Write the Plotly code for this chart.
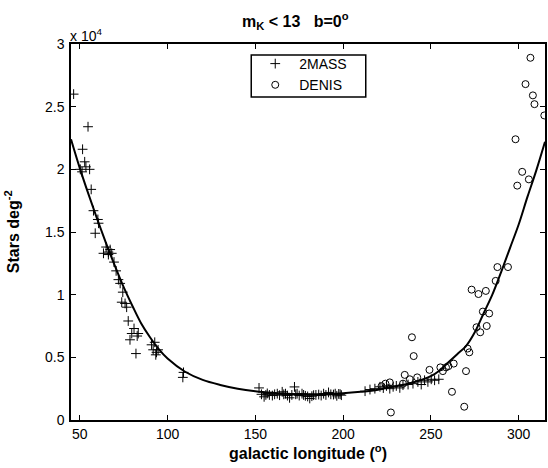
import plotly.graph_objects as go

# ---- data (values in thousands of stars per square degree) ----
twomass_l = [46.5, 54.7, 51.6, 52.8, 50.3, 53.5, 55.6, 51.3, 56.5, 57.8, 60.3, 60.7, 58.8,
             65.0, 63.5, 67.3, 68.2, 66.3, 66.3, 69.5, 70.7, 72.0, 73.0, 74.5, 73.9, 75.8,
             76.7, 77.6, 80.9, 79.6, 78.6, 83.3, 82.7, 82.0, 90.9, 92.7, 91.8, 93.7, 93.3,
             94.6, 108.7, 109.1,
             152.1, 153.5, 155.0, 156.0, 156.8, 158.0, 159.7, 161.0, 162.5, 163.8, 165.3,
             166.2, 167.2, 168.3, 169.5, 170.8, 172.3, 173.0, 173.8, 175.0, 176.6, 177.5,
             178.5, 179.8, 181.0, 182.2, 183.2, 184.5, 186.1, 187.5, 188.9, 190.2, 191.7,
             193.0, 194.5, 195.5, 196.4, 197.5, 198.3, 199.0,
             212.5, 215.3, 218.1, 221.0, 222.9, 224.7, 226.6, 228.5, 230.3, 232.3, 234.1,
             237.0, 239.8, 242.6, 244.5, 246.4, 248.3, 250.2, 252.1, 254.5]
twomass_k = [26.0, 23.4, 21.6, 20.6, 20.0, 20.2, 20.0, 19.8, 18.4, 16.7, 16.0, 15.7, 14.9,
             13.8, 13.3, 13.6, 13.3, 13.4, 13.2, 12.6, 11.9, 11.2, 10.9, 10.2, 9.4, 9.3,
             9.0, 7.9, 7.3, 6.9, 6.4, 6.9, 6.7, 5.3, 6.0, 6.2, 5.6, 5.4, 5.2,
             5.6, 3.4, 3.8,
             2.56, 2.05, 1.85, 2.0, 2.12, 2.0, 1.95, 2.05, 2.1, 1.98, 2.25,
             2.05, 2.1, 1.95, 1.77, 2.0, 2.64, 2.05, 2.1, 1.95, 2.1, 2.0,
             1.93, 1.88, 1.72, 1.9, 1.98, 2.0, 2.03, 1.95, 2.1, 2.0, 2.2,
             2.05, 2.03, 2.1, 1.93, 2.08, 2.06, 1.98,
             2.3, 2.43, 2.5, 2.65, 2.55, 2.72, 2.5, 2.65, 2.72, 2.56, 2.78,
             2.83, 2.9, 3.04, 2.83, 3.17, 3.04, 3.25, 3.17, 3.25]

denis_l = [221.9, 224.1, 226.6, 227.2, 234.1, 235.1, 238.0, 242.2, 239.2, 240.2, 249.2,
           255.4, 256.8, 258.6, 260.0, 263.0, 262.0, 269.0, 270.0, 270.9, 271.9, 276.0,
           278.1, 281.8, 279.6, 283.2, 273.2, 277.1, 281.3, 286.9, 287.9, 293.9, 299.2,
           302.0, 305.8, 298.2, 309.0, 314.6, 308.1, 303.9, 306.7]
denis_k = [2.7, 2.9, 3.0, 0.6, 2.9, 3.6, 3.25, 3.4, 6.6, 5.1, 4.0,
           4.2, 3.9, 4.2, 4.3, 4.5, 2.25, 1.06, 3.9, 5.7, 5.4, 7.4,
           7.0, 7.5, 8.65, 8.5, 10.4, 10.05, 10.3, 11.1, 12.2, 12.2, 18.7,
           19.8, 19.2, 22.4, 25.2, 24.3, 25.9, 26.8, 28.9]

model_l = [45, 50, 55, 60, 65, 70, 75, 80, 85, 90, 95, 100, 110, 120, 130, 140, 150,
           160, 170, 180, 190, 200, 210, 220, 230, 240, 250, 255, 260, 265, 270, 275,
           280, 285, 290, 295, 300, 305, 310, 315]
model_k = [22.4, 20.1, 18.0, 16.0, 14.1, 12.3, 10.6, 9.1, 7.7, 6.6, 5.65, 4.9, 3.85,
           3.2, 2.8, 2.5, 2.3, 2.17, 2.08, 2.05, 2.07, 2.13, 2.25, 2.42, 2.7, 3.0,
           3.5, 3.95, 4.6, 5.25, 5.9, 7.0, 8.5, 10.0, 11.8, 13.7, 15.6, 17.8, 19.9, 22.2]

x_ticks = [50, 100, 150, 200, 250, 300]
y_ticks = [0, 0.5, 1, 1.5, 2, 2.5, 3]   # units of 1e4


def to1e4(vals):
    return [v / 10.0 for v in vals]


FONT = "Liberation Sans, Arial, sans-serif"

fig = go.Figure()
fig.add_trace(go.Scatter(x=twomass_l, y=to1e4(twomass_k), mode="markers", name="2MASS",
                         marker=dict(symbol="cross-thin", size=7, color="black",
                                     line=dict(width=1, color="black"))))
fig.add_trace(go.Scatter(x=denis_l, y=to1e4(denis_k), mode="markers", name="DENIS",
                         marker=dict(symbol="circle-open", size=7, color="black",
                                     line=dict(width=1, color="black"))))
fig.add_trace(go.Scatter(x=model_l, y=to1e4(model_k), mode="lines", showlegend=False,
                         line=dict(color="black", width=2, shape="spline")))

L, R, T, B = 71, 1, 44, 48
W, H = 548, 468
pw, ph = W - L - R, H - T - B


def px(x):
    return (x - L) / pw


def py(y):
    return (H - B - y) / ph


axis_common = dict(showline=True, linecolor="black", linewidth=1.5, mirror="ticks",
                   ticks="inside", ticklen=5, tickwidth=1, tickcolor="black",
                   showgrid=False, zeroline=False,
                   tickfont=dict(family=FONT, size=14, color="black"))

fig.update_layout(
    width=W, height=H,
    margin=dict(l=L, r=R, t=T, b=B),
    paper_bgcolor="white", plot_bgcolor="white",
    font=dict(family=FONT, color="black"),
    xaxis=dict(range=[45, 315], tickvals=x_ticks, **axis_common),
    yaxis=dict(range=[0, 3], tickvals=y_ticks, ticklabelstandoff=2, **axis_common),
    showlegend=True,
    legend=dict(x=px(252), y=py(48), xanchor="left", yanchor="top",
                borderwidth=0, bgcolor="rgba(0,0,0,0)",
                font=dict(family=FONT, size=14, color="black"),
                itemwidth=38, tracegroupgap=0),
    shapes=[
        dict(type="rect", xref="paper", yref="paper",
             x0=px(252), x1=px(367), y0=py(97), y1=py(55),
             line=dict(color="black", width=1.5), fillcolor="white", layer="below"),
    ],
    annotations=[
        dict(text="<b>m<sub>K</sub> &lt; 13&nbsp;&nbsp;&nbsp;b=0<sup>o</sup></b>",
             xref="paper", yref="paper", x=px(296), y=py(21),
             xanchor="center", yanchor="middle", showarrow=False,
             font=dict(family=FONT, size=16, color="black")),
        dict(text="x 10<sup>4</sup>", xref="paper", yref="paper",
             x=px(68), y=py(35), xanchor="left", yanchor="middle", showarrow=False,
             font=dict(family=FONT, size=14, color="black")),
        dict(text="<b>Stars deg<sup>-2</sup></b>", xref="paper", yref="paper",
             x=px(12), y=0.5, xanchor="center", yanchor="middle", textangle=-90,
             showarrow=False, font=dict(family=FONT, size=16, color="black")),
        dict(text="<b>galactic longitude (<sup>o</sup>)</b>", xref="paper", yref="paper",
             x=0.5, y=py(452), xanchor="center", yanchor="middle", showarrow=False,
             font=dict(family=FONT, size=16, color="black")),
    ],
)

fig.write_html("out.html")
